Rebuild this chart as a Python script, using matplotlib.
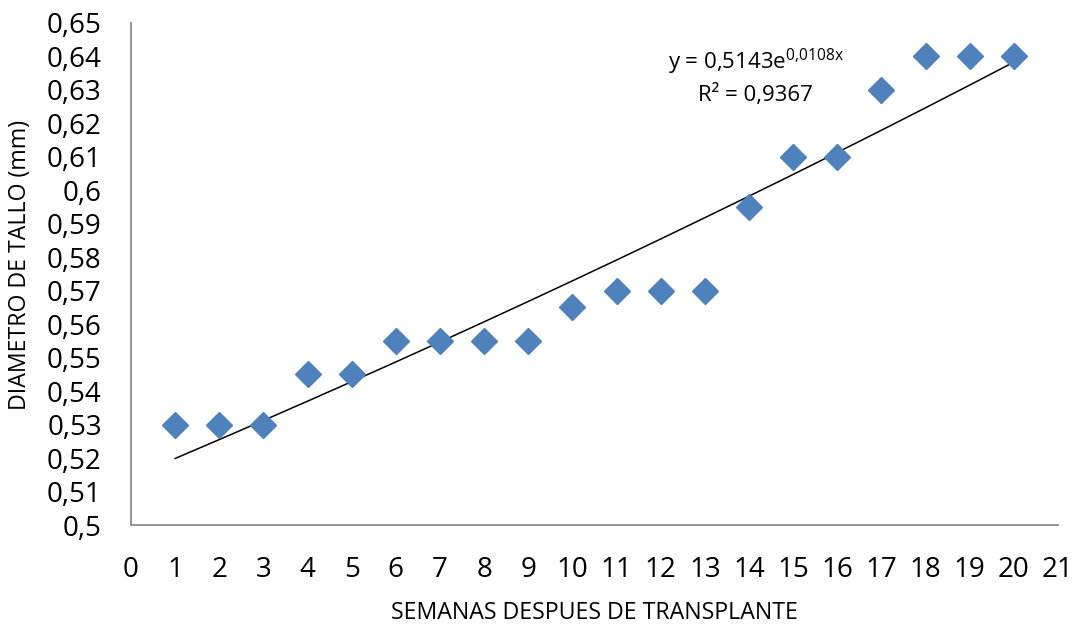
import numpy as np
import matplotlib
matplotlib.use("Agg")
import matplotlib.pyplot as plt

plt.rcParams['font.family'] = ['Open Sans', 'DejaVu Sans']

semanas = [1, 2, 3, 4, 5, 6, 7, 8, 9, 10, 11, 12, 13, 14, 15, 16, 17, 18, 19, 20]
diametro = [0.53, 0.53, 0.53, 0.545, 0.545, 0.555, 0.555, 0.555, 0.555, 0.565,
            0.57, 0.57, 0.57, 0.595, 0.61, 0.61, 0.63, 0.64, 0.64, 0.64]

# coeficientes de la linea de tendencia exponencial (del grafico)
a_coef = 0.5143
b_coef = 0.0108

fig = plt.figure(figsize=(10.8, 6.26), dpi=100)
ax = fig.add_axes([0.1213, 0.1613, 0.8583, 0.802])

ax.plot(semanas, diametro, linestyle='none', marker='D', markersize=13,
        color='#4F81BD', markeredgecolor='#4F81BD', zorder=3)

xt = np.array(semanas, dtype=float)
ax.plot(xt, a_coef * np.exp(b_coef * xt), color='black', linewidth=1.1, zorder=2)

ax.text(14.15, 0.6383, 'y = 0,5143e$^{\\mathregular{0{,}0108x}}$', fontsize=16,
        ha='center', va='center')
ax.text(14.15, 0.6285, 'R² = 0,9367', fontsize=16, ha='center', va='center')

ax.set_xlim(0, 21)
ax.set_ylim(0.5, 0.65)
ax.set_xticks(range(0, 22))
yt = np.round(np.arange(0.5, 0.6501, 0.01), 2)
ax.set_yticks(yt)
ax.set_yticklabels([('%g' % v).replace('.', ',') for v in yt])
ax.tick_params(length=0, labelsize=20)
ax.tick_params(axis='x', pad=22)
ax.tick_params(axis='y', pad=21)

for s in ['top', 'right']:
    ax.spines[s].set_visible(False)
for s in ['left', 'bottom']:
    ax.spines[s].set_color('#8c8c8c')
    ax.spines[s].set_linewidth(1.3)

ax.set_xlabel('SEMANAS DESPUES DE TRANSPLANTE', fontsize=16.7, va='center')
ax.xaxis.set_label_coords(0.5, -0.175)
ax.set_ylabel('DIAMETRO DE TALLO (mm)', fontsize=16.7, va='center', ha='center')
ax.yaxis.set_label_coords(-0.1197, 0.518)

fig.savefig('out.png', dpi=100)
